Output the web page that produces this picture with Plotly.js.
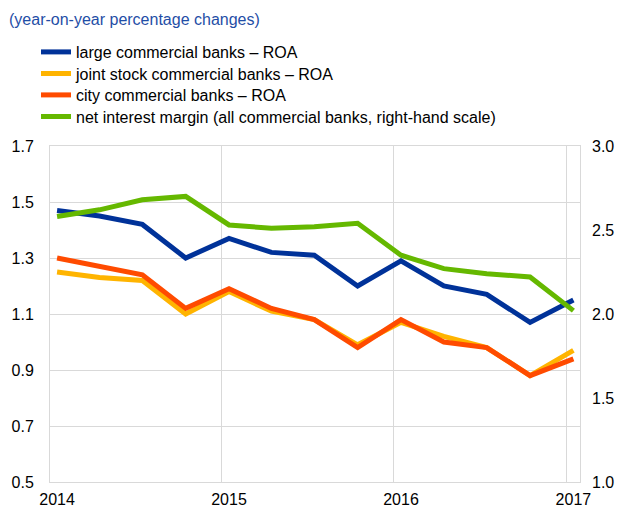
<!DOCTYPE html>
<html>
<head>
<meta charset="utf-8">
<script src="https://cdn.plot.ly/plotly-3.0.1.min.js"></script>
<style>html,body{margin:0;padding:0;background:#fff;}#chart{width:619px;height:507px;}</style>
</head>
<body>
<div id="chart"></div>
<script>
var quarters = ["2014-01-16","2014-04-16","2014-07-16","2014-10-16","2015-01-16","2015-04-16","2015-07-16","2015-10-16","2016-01-16","2016-04-16","2016-07-16","2016-10-16","2017-01-16"];
var largeROA = [1.47,1.45,1.42,1.30,1.37,1.32,1.31,1.20,1.29,1.20,1.17,1.07,1.15];
var jointROA = [1.25,1.23,1.22,1.10,1.18,1.11,1.08,0.99,1.07,1.02,0.98,0.88,0.97];
var cityROA  = [1.30,1.27,1.24,1.12,1.19,1.12,1.08,0.98,1.08,1.00,0.98,0.88,0.94];
var nim      = [2.58,2.62,2.68,2.70,2.53,2.51,2.52,2.54,2.35,2.27,2.24,2.22,2.02];
var yearTicks = ["2014-01-16","2015-01-16","2016-01-16","2017-01-16"];
var yearTickText = ["2014","2015","2016","2017"];
var yearGrid = ["2014-01-01","2015-01-01","2016-01-01","2017-01-01"];
var names = ["large commercial banks \u2013 ROA","joint stock commercial banks \u2013 ROA","city commercial banks \u2013 ROA","net interest margin (all commercial banks, right-hand scale)"];
var colors = ["#003299","#ffb400","#ff4b00","#65b800"];

var font = "Arial, 'Liberation Sans', sans-serif";
var legendIds = ["legend","legend2","legend3","legend4"];
var traces = [
  {x: quarters, y: largeROA, name: names[0], legend: legendIds[0], type: "scatter", mode: "lines", line: {color: colors[0], width: 5}},
  {x: quarters, y: jointROA, name: names[1], legend: legendIds[1], type: "scatter", mode: "lines", line: {color: colors[1], width: 5}},
  {x: quarters, y: cityROA, name: names[2], legend: legendIds[2], type: "scatter", mode: "lines", line: {color: colors[2], width: 5}},
  {x: quarters, y: nim, name: names[3], legend: legendIds[3], type: "scatter", mode: "lines", yaxis: "y2", line: {color: colors[3], width: 5}}
];
var rowCenters = [52, 73.5, 95, 116.5];
function legendAt(yc) {
  return {x: 36/619, xanchor: "left", xref: "container", y: 1 - yc/507, yanchor: "middle", yref: "container",
          bgcolor: "rgba(0,0,0,0)", borderwidth: 0, font: {family: font, size: 16, color: "#000"}};
}
var layout = {
  width: 619, height: 507,
  margin: {l: 50, r: 39, t: 146, b: 25, pad: 0, autoexpand: false},
  paper_bgcolor: "#fff", plot_bgcolor: "#fff",
  font: {family: font, size: 16, color: "#000"},
  title: {text: "(year-on-year percentage changes)", x: 9/619, xanchor: "left", xref: "container", y: 1 - 19/507, yanchor: "middle", yref: "container", font: {family: font, size: 16, color: "#1f4ea6"}},
  showlegend: true,
  legend: legendAt(rowCenters[0]),
  legend2: legendAt(rowCenters[1]),
  legend3: legendAt(rowCenters[2]),
  legend4: legendAt(rowCenters[3]),
  xaxis: {
    type: "date",
    range: ["2014-01-01", "2017-01-30"],
    tickmode: "array", tickvals: yearTicks, ticktext: yearTickText, tickangle: 0,
    showgrid: false, ticks: "", ticklabelstandoff: 3,
    showline: true, linecolor: "#d9d9d9", linewidth: 1, mirror: true,
    minor: {tickmode: "array", tickvals: yearGrid, showgrid: true, gridcolor: "#d9d9d9", gridwidth: 1, ticks: ""},
    zeroline: false, fixedrange: true
  },
  yaxis: {
    range: [0.5, 1.7], tickmode: "linear", tick0: 0.5, dtick: 0.2, tickformat: ".1f",
    showgrid: true, gridcolor: "#d9d9d9", gridwidth: 1, ticks: "", ticklabelstandoff: 12,
    showline: true, linecolor: "#d9d9d9", linewidth: 1, mirror: true, zeroline: false
  },
  yaxis2: {
    range: [1.0, 3.0], tickmode: "linear", tick0: 1.0, dtick: 0.5, tickformat: ".1f",
    overlaying: "y", side: "right", showgrid: false, ticks: "", ticklabelstandoff: 11,
    showline: false, zeroline: false
  }
};
Plotly.newPlot("chart", traces, layout, {displayModeBar: false, staticPlot: true});
</script>
</body>
</html>
